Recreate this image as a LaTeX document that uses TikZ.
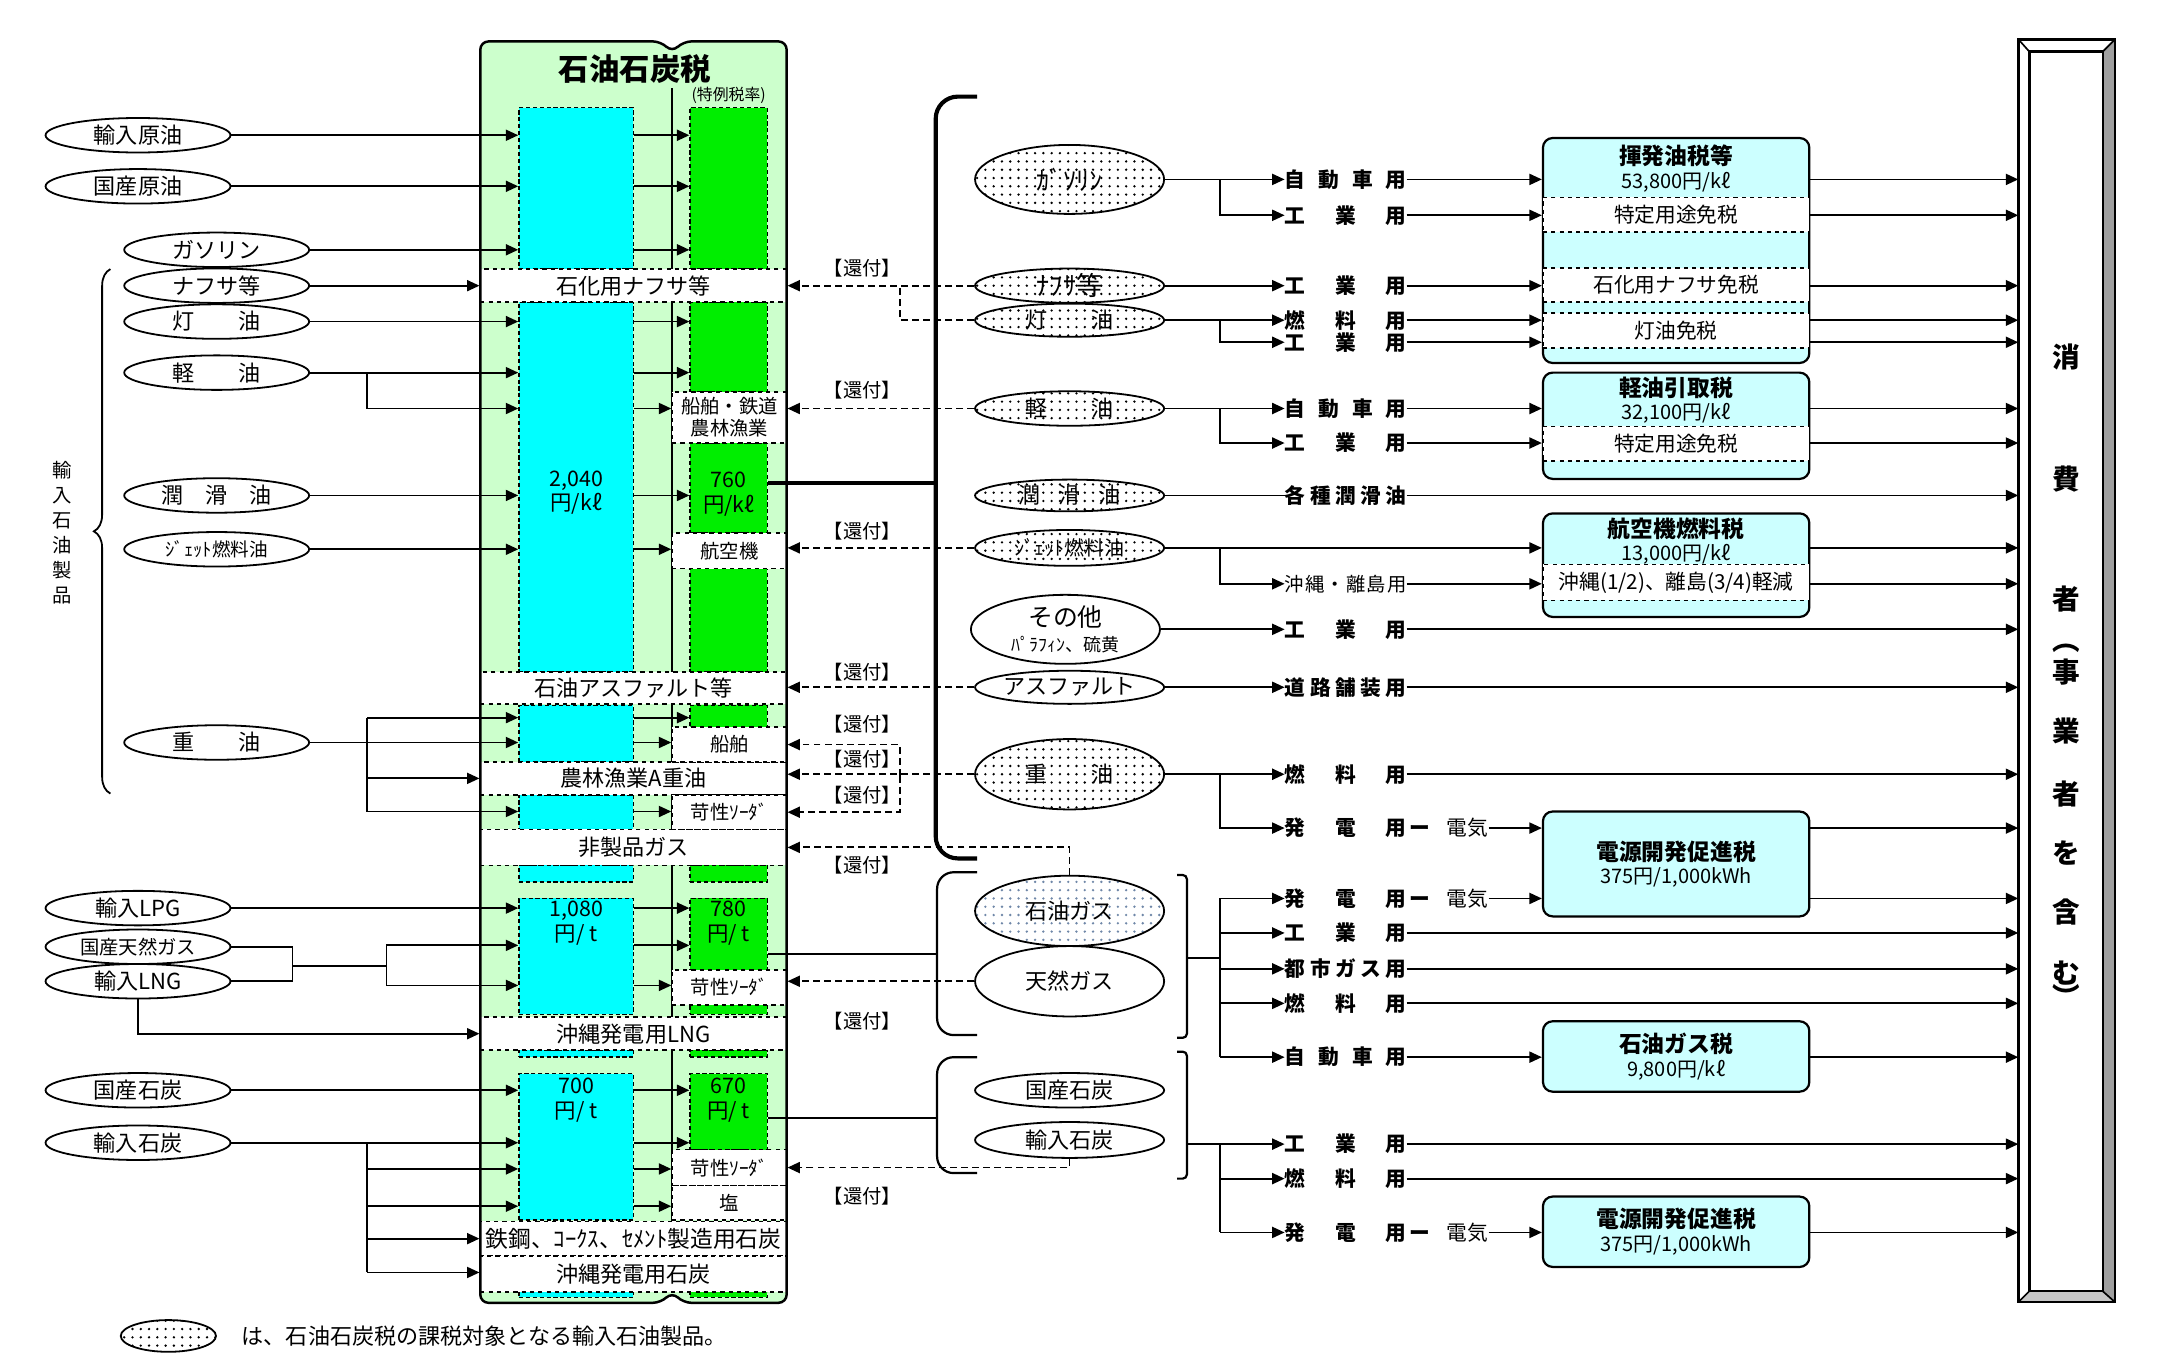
\documentclass[tikz,border=0pt]{standalone}
\usepackage{fontspec}
\setmainfont{Noto Sans CJK JP}
\usetikzlibrary{positioning,shapes.geometric,arrows.meta,patterns.meta,decorations.pathreplacing}
\setlength{\parindent}{0pt}

\definecolor{lightgreen}{HTML}{CCFFCC}
\definecolor{barcyan}{HTML}{00FFFF}
\definecolor{bargreen}{HTML}{00EE00}
\definecolor{taxcyan}{HTML}{CCFFFF}
\definecolor{gasdots}{HTML}{6F87A8}

\newcommand{\fsz}[2]{\fontsize{#1}{#2}\selectfont}

\tikzdeclarepattern{
  name=sparsedots,
  type=uncolored,
  bounding box={(-3pt,-3pt) and (3pt,3pt)},
  tile size={(6pt,6pt)},
  code={\pgfpathcircle{\pgfpointorigin}{0.95pt}\pgfusepath{fill}}
}

\tikzset{
  conn/.style={line width=1.3pt},
  arr/.style={conn,-{Triangle[length=9pt,width=8pt]}},
  ret/.style={conn,dash pattern=on 5pt off 3pt,-{Triangle[length=9pt,width=8pt]}},
  lell/.style={ellipse,draw,line width=1.3pt,minimum width=134pt,minimum height=25pt,inner sep=0pt,font=\fsz{16}{18}},
  rell/.style={lell,minimum width=137pt},
  dotell/.style={rell,pattern=sparsedots,preaction={fill=white}},
  band/.style={draw,dashed,line width=1.2pt,fill=white,minimum width=222pt,inner sep=0pt,font=\fsz{16}{18}},
  sbox/.style={band,minimum width=83pt,align=center,font=\fsz{14}{16}},
  cbar/.style={draw,densely dashed,line width=1pt,fill=barcyan,minimum width=83pt,inner sep=0pt},
  gbar/.style={cbar,fill=bargreen,minimum width=56pt},
  valtxt/.style={align=center,inner sep=0pt,font=\fsz{15.5}{18}},
  kanpu/.style={inner sep=0pt,font=\fsz{14}{16}},
  uselbl/.style={text width=88pt,inner sep=0pt,font=\fsz{15}{17}\bfseries},
  taxbox/.style={draw,line width=1.6pt,rounded corners=7pt,fill=taxcyan,minimum width=193pt,inner sep=0pt},
  tband/.style={draw,dashed,line width=1.2pt,fill=white,minimum width=193pt,minimum height=25pt,inner sep=0pt,font=\fsz{15}{17}},
  taxtxt/.style={align=center,inner sep=0pt,font=\fsz{14.5}{17}},
  constxt/.style={inner sep=0pt,font=\fsz{20}{21}\bfseries}
}

\begin{document}
\begin{tikzpicture}[x=1pt,y=-1pt]
\useasboundingbox (0,0) rectangle (1568,993);

% 石油石炭税 block
\path[fill=lightgreen,rounded corners=6pt] (487,38) -- (479,30) -- (348,30) -- (348,944) -- (479,944) -- (487,936) -- (495,944) -- (570,944) -- (570,30) -- (495,30) -- cycle;
\draw[line width=1.8pt] (487,64) -- (487,936);

\node[cbar,minimum height=117pt] (c1) at (417.5,136.5) {};
\node[cbar,minimum height=268pt] (c2) at (417.5,353) {};
\node[cbar,minimum height=41pt] (c3) at (417.5,531.5) {};
\node[cbar,minimum height=25pt] (c4) at (417.5,588.5) {};
\node[cbar,minimum height=12pt] (c5) at (417.5,633) {};
\node[cbar,minimum height=84pt] (c6) at (417.5,693) {};
\node[cbar,minimum height=5pt] (c7) at (417.5,763.5) {};
\node[cbar,minimum height=106pt] (c8) at (417.5,831) {};
\node[cbar,minimum height=4pt] (c9) at (417.5,938) {};

\node[gbar,minimum height=117pt] (g1) at (528,136.5) {};
\node[gbar,minimum height=65pt] (g2) at (528,251.5) {};
\node[gbar,minimum height=65pt] (g3) at (528,353.5) {};
\node[gbar,minimum height=75pt] (g4) at (528,449.5) {};
\node[gbar,minimum height=16pt] (g5) at (528,519) {};
\node[gbar,minimum height=12pt] (g6) at (528,633) {};
\node[gbar,minimum height=52pt] (g7) at (528,677) {};
\node[gbar,minimum height=7pt] (g8) at (528,731.5) {};
\node[gbar,minimum height=5pt] (g9) at (528,763.5) {};
\node[gbar,minimum height=55pt] (g10) at (528,805.5) {};
\node[gbar,minimum height=4pt] (g11) at (528,938) {};

\node[band,minimum height=24pt] (b1) at (459,207) {石化用ナフサ等};
\node[band,minimum height=23pt] (b2) at (459,498.5) {石油アスファルト等};
\node[band,minimum height=24pt] (b3) at (459,564) {農林漁業A重油};
\node[band,minimum height=26pt] (b4) at (459,614) {非製品ガス};
\node[band,minimum height=24pt] (b5) at (459,749) {沖縄発電用LNG};
\node[band,minimum height=25pt,font=\fsz{16.5}{18}] (b6) at (459,897.5) {鉄鋼、ｺｰｸｽ、ｾﾒﾝﾄ製造用石炭};
\node[band,minimum height=26pt] (b7) at (459,923) {沖縄発電用石炭};

\node[sbox,minimum height=37pt] (s1) at (528.5,302.5) {船舶・鉄道\\農林漁業};
\node[sbox,minimum height=26pt] (s2) at (528.5,399) {航空機};
\node[sbox,minimum height=25pt] (s3) at (528.5,539.5) {船舶};
\node[sbox,minimum height=25pt] (s4) at (528.5,588.5) {苛性ｿｰﾀﾞ};
\node[sbox,minimum height=25pt] (s5) at (528.5,715.5) {苛性ｿｰﾀﾞ};
\node[sbox,minimum height=26pt] (s6) at (528.5,846) {苛性ｿｰﾀﾞ};
\node[sbox,minimum height=25pt] (s7) at (528.5,871.5) {塩};

\draw[line width=1.8pt,rounded corners=6pt] (487,38) -- (479,30) -- (348,30) -- (348,944) -- (479,944) -- (487,936) -- (495,944) -- (570,944) -- (570,30) -- (495,30) -- cycle;

\node[inner sep=0pt,font=\fsz{22}{24}\bfseries] (title) at (460,50) {石油石炭税};
\node[inner sep=0pt,font=\fsz{11.5}{12}] (tokurei) at (528,69) {(特例税率)};
\node[valtxt] (v1) at (417.5,357) {2,040\\円/kℓ};
\node[valtxt] (v2) at (528,358) {760\\円/kℓ};
\node[valtxt] (v3) at (417.5,669) {1,080\\円/ t};
\node[valtxt] (v4) at (528,669) {780\\円/ t};
\node[valtxt] (v5) at (417.5,797) {700\\円/ t};
\node[valtxt] (v6) at (528,797) {670\\円/ t};

% left inputs
\node[lell] (inCrude) at (100,98) {輸入原油};
\node[lell] (domCrude) at (100,135) {国産原油};
\node[lell] (lGas) at (157,181) {ガソリン};
\node[lell] (lNaph) at (157,207) {ナフサ等};
\node[lell] (lKero) at (157,233) {灯\hspace{2em}油};
\node[lell] (lDiesel) at (157,270) {軽\hspace{2em}油};
\node[lell] (lLube) at (157,359) {潤\hspace{1em}滑\hspace{1em}油};
\node[lell,font=\fsz{13.5}{15}] (lJet) at (157,398) {ｼﾞｪｯﾄ燃料油};
\node[lell] (lHeavy) at (157,538) {重\hspace{2em}油};
\node[lell] (lLPG) at (100,658) {輸入LPG};
\node[lell,font=\fsz{14}{15}] (lNG) at (100,686) {国産天然ガス};
\node[lell] (lLNG) at (100,711) {輸入LNG};
\node[lell] (lCoal1) at (100,790) {国産石炭};
\node[lell] (lCoal2) at (100,828) {輸入石炭};

\draw[line width=1.3pt,decorate,decoration={brace,amplitude=12pt}] (80,575) -- (80,195);
\node[align=center,inner sep=0pt,font=\fsz{14}{18}] (yunyu) at (45,386) {輸\\入\\石\\油\\製\\品};

\coordinate (kx) at (266,0);
\coordinate (dsl) at (266,296);
\coordinate (hv1) at (266,520);
\coordinate (hv3) at (266,564);
\coordinate (hv4) at (266,588);
\coordinate (gj) at (212,700);
\coordinate (gk) at (280,700);
\coordinate (ga) at (280,685);
\coordinate (gb) at (280,714);
\coordinate (co1) at (266,847);
\coordinate (co2) at (266,874);
\coordinate (co4) at (266,922);

\draw[arr] (inCrude) -- (inCrude -| c1.west);
\draw[arr] (inCrude -| c1.east) -- (inCrude -| g1.west);
\draw[arr] (domCrude) -- (domCrude -| c1.west);
\draw[arr] (domCrude -| c1.east) -- (domCrude -| g1.west);
\draw[arr] (lGas) -- (lGas -| c1.west);
\draw[arr] (lGas -| c1.east) -- (lGas -| g1.west);
\draw[arr] (lNaph) -- (lNaph -| b1.west);
\draw[arr] (lKero) -- (lKero -| c2.west);
\draw[arr] (lKero -| c2.east) -- (lKero -| g2.west);
\draw[arr] (lDiesel) -- (lDiesel -| c2.west);
\draw[arr] (lDiesel -| c2.east) -- (lDiesel -| g2.west);
\draw[arr] (kx |- lDiesel) -- (dsl) -- (dsl -| c2.west);
\draw[arr] (dsl -| c2.east) -- (dsl -| s1.west);
\draw[arr] (lLube) -- (lLube -| c2.west);
\draw[arr] (lLube -| c2.east) -- (lLube -| g3.west);
\draw[arr] (lJet) -- (lJet -| c2.west);
\draw[arr] (lJet -| c2.east) -- (lJet -| s2.west);

\draw[conn] (hv1) -- (hv4);
\draw[arr] (lHeavy) -- (lHeavy -| c3.west);
\draw[arr] (hv1) -- (hv1 -| c3.west);
\draw[arr] (hv3) -- (hv3 -| b3.west);
\draw[arr] (hv4) -- (hv4 -| c4.west);
\draw[arr] (hv1 -| c3.east) -- (hv1 -| g5.west);
\draw[arr] (lHeavy -| c3.east) -- (lHeavy -| s3.west);
\draw[arr] (hv4 -| c4.east) -- (hv4 -| s4.west);

\draw[arr] (lLPG) -- (lLPG -| c6.west);
\draw[arr] (lLPG -| c6.east) -- (lLPG -| g7.west);
\draw[conn] (lNG.east) -| (gj);
\draw[conn] (lLNG.east) -| (gj);
\draw[conn] (gj) -- (gk);
\draw[conn] (ga) -- (gb);
\draw[arr] (ga) -- (ga -| c6.west);
\draw[arr] (gb) -- (gb -| c6.west);
\draw[arr] (ga -| c6.east) -- (ga -| g7.west);
\draw[arr] (gb -| c6.east) -- (gb -| s5.west);
\draw[arr] (lLNG.south) |- (b5.west);

\draw[arr] (lCoal1) -- (lCoal1 -| c8.west);
\draw[arr] (lCoal1 -| c8.east) -- (lCoal1 -| g10.west);
\draw[arr] (lCoal2) -- (lCoal2 -| c8.west);
\draw[arr] (lCoal2 -| c8.east) -- (lCoal2 -| g10.west);
\draw[conn] (kx |- lCoal2) -- (co4);
\draw[arr] (co1) -- (co1 -| c8.west);
\draw[arr] (co2) -- (co2 -| c8.west);
\draw[arr] (kx |- b6) -- (b6.west);
\draw[arr] (co4) -- (co4 -| b7.west);
\draw[arr] (co1 -| c8.east) -- (co1 -| s6.west);
\draw[arr] (co2 -| c8.east) -- (co2 -| s7.west);

% right products
\node[dotell,minimum height=50pt,font=\fsz{19}{20}] (rGas) at (775,130) {ｶﾞｿﾘﾝ};
\node[dotell,minimum height=24pt,font=\fsz{19}{20}] (rNaph) at (775,207) {ﾅﾌｻ等};
\node[dotell,minimum height=24pt] (rKero) at (775,232) {灯\hspace{2em}油};
\node[dotell,minimum height=25pt] (rDiesel) at (775,296) {軽\hspace{2em}油};
\node[dotell,minimum height=23pt] (rLube) at (775,359) {潤\hspace{0.8em}滑\hspace{0.8em}油};
\node[dotell,minimum height=26pt,font=\fsz{14.5}{16}] (rJet) at (775,397) {ｼﾞｪｯﾄ燃料油};
\node[rell,minimum height=50pt,align=center,font=\fsz{18}{18}] (rOther) at (772,456) {その他\\{\fsz{13}{14}ﾊﾟﾗﾌｨﾝ、硫黄}};
\node[rell,minimum height=24pt] (rAsph) at (775,498) {アスファルト};
\node[dotell,minimum height=51pt] (rHeavy) at (775,561) {重\hspace{2em}油};
\node[dotell,minimum height=51pt,pattern color=gasdots] (rLPGas) at (775,660) {石油ガス};
\node[rell,minimum height=51pt] (rNatGas) at (775,711) {天然ガス};
\node[rell,minimum height=25pt] (rCoal1) at (775,790) {国産石炭};
\node[rell,minimum height=26pt] (rCoal2) at (775,826) {輸入石炭};

% brackets
\coordinate (bigJ) at (678,350);
\coordinate (gL) at (679,691);
\coordinate (gR) at (860,694);
\coordinate (cL) at (679,810);
\coordinate (cR) at (860,829);
\draw[line width=3pt,rounded corners=16pt] (708,70) -- (678,70) -- (678,622) -- (708,622);
\draw[line width=3pt] (bigJ -| g3.east) -- (bigJ);
\draw[line width=1.6pt,rounded corners=12pt] (708,632) -- (679,632) -- (679,750) -- (708,750);
\draw[line width=1.6pt,rounded corners=3pt] (853,634) -- (860,634) -- (860,752) -- (853,752);
\draw[conn] (gL -| g7.east) -- (gL);
\draw[line width=1.6pt,rounded corners=12pt] (708,766) -- (679,766) -- (679,850) -- (708,850);
\draw[line width=1.6pt,rounded corners=3pt] (853,762) -- (860,762) -- (860,854) -- (853,854);
\draw[conn] (cL -| g10.east) -- (cL);

% refunds
\coordinate (kj) at (652,207);
\coordinate (hj) at (652,562);
\draw[ret] (rNaph) -- (rNaph -| b1.east);
\draw[conn,dash pattern=on 5pt off 3pt] (rKero.west) -| (kj);
\draw[ret] (rDiesel) -- (rDiesel -| s1.east);
\draw[ret] (rJet) -- (rJet -| s2.east);
\draw[ret] (rAsph) -- (rAsph -| b2.east);
\draw[ret] (rHeavy) -- (rHeavy -| b3.east);
\draw[ret] (hj) |- (s3.east);
\draw[ret] (hj) |- (s4.east);
\draw[ret] (rLPGas.north) |- (b4.east);
\draw[ret] (rNatGas) -- (rNatGas -| s5.east);
\draw[ret] (rCoal2.south) |- (s6.east);
\foreach \yy in {194,283,385,487,525,550,576,627,740,867}
  \node[kanpu] (k\yy) at (625,\yy) {【還付】};

% uses
\node[uselbl] (uGas1) at (975,130) {自\hfill 動\hfill 車\hfill 用};
\node[uselbl] (uGas2) at (975,156) {工\hfill 業\hfill 用};
\node[uselbl] (uNaph) at (975,207) {工\hfill 業\hfill 用};
\node[uselbl] (uKer1) at (975,232) {燃\hfill 料\hfill 用};
\node[uselbl] (uKer2) at (975,248) {工\hfill 業\hfill 用};
\node[uselbl] (uDie1) at (975,296) {自\hfill 動\hfill 車\hfill 用};
\node[uselbl] (uDie2) at (975,321) {工\hfill 業\hfill 用};
\node[uselbl] (uLube) at (975,359) {各\hfill 種\hfill 潤\hfill 滑\hfill 油};
\node[uselbl,font=\fsz{14}{16}] (uJet) at (975,423) {沖\hfill 縄\hfill ・\hfill 離\hfill 島\hfill 用};
\node[uselbl] (uOth) at (975,456) {工\hfill 業\hfill 用};
\node[uselbl] (uAsp) at (975,498) {道\hfill 路\hfill 舗\hfill 装\hfill 用};
\node[uselbl] (uHv1) at (975,561) {燃\hfill 料\hfill 用};
\node[uselbl] (uHv2) at (975,600) {発\hfill 電\hfill 用};
\node[uselbl] (uGs1) at (975,651) {発\hfill 電\hfill 用};
\node[uselbl] (uGs2) at (975,676) {工\hfill 業\hfill 用};
\node[uselbl] (uGs3) at (975,702) {都\hfill 市\hfill ガ\hfill ス\hfill 用};
\node[uselbl] (uGs4) at (975,727) {燃\hfill 料\hfill 用};
\node[uselbl] (uGs5) at (975,766) {自\hfill 動\hfill 車\hfill 用};
\node[uselbl] (uCo1) at (975,829) {工\hfill 業\hfill 用};
\node[uselbl] (uCo2) at (975,854) {燃\hfill 料\hfill 用};
\node[uselbl] (uCo3) at (975,893) {発\hfill 電\hfill 用};
\node[right=2pt of uHv2,inner sep=0pt,font=\fsz{15}{17}] (eHv) {{\bfseries ー}\hspace{12pt}電気};
\node[right=2pt of uGs1,inner sep=0pt,font=\fsz{15}{17}] (eGs) {{\bfseries ー}\hspace{12pt}電気};
\node[right=2pt of uCo3,inner sep=0pt,font=\fsz{15}{17}] (eCo) {{\bfseries ー}\hspace{12pt}電気};

\coordinate (bx) at (884,0);
\draw[arr] (rGas) -- (uGas1.west);
\draw[arr] (bx |- rGas) |- (uGas2.west);
\draw[arr] (rNaph) -- (uNaph.west);
\draw[arr] (rKero) -- (uKer1.west);
\draw[arr] (bx |- rKero) |- (uKer2.west);
\draw[arr] (rDiesel) -- (uDie1.west);
\draw[arr] (bx |- rDiesel) |- (uDie2.west);
\draw[conn] (rLube) -- (uLube.west);
\draw[arr] (bx |- rJet) |- (uJet.west);
\draw[arr] (rOther) -- (uOth.west);
\draw[arr] (rAsph) -- (uAsp.west);
\draw[arr] (rHeavy) -- (uHv1.west);
\draw[arr] (bx |- rHeavy) |- (uHv2.west);
\draw[conn] (gR) -- (bx |- gR);
\draw[conn] (bx |- uGs1) -- (bx |- uGs5);
\foreach \u in {uGs1,uGs2,uGs3,uGs4,uGs5}
  \draw[arr] (bx |- \u) -- (\u.west);
\draw[arr] (cR) -- (uCo1.west);
\draw[conn] (bx |- uCo1) -- (bx |- uCo3);
\draw[arr] (bx |- uCo2) -- (uCo2.west);
\draw[arr] (bx |- uCo3) -- (uCo3.west);

% taxes
\node[taxbox,minimum height=163pt] (t1) at (1214.5,181.5) {};
\node[tband] (t1a) at (1214.5,155.5) {特定用途免税};
\node[tband] (t1b) at (1214.5,206.5) {石化用ナフサ免税};
\node[tband] (t1c) at (1214.5,239.5) {灯油免税};
\node[taxtxt] (t1txt) at (1214.5,122) {{\fsz{16.5}{18}\bfseries 揮発油税等}\\53,800円/kℓ};
\node[taxbox,minimum height=77pt] (t2) at (1214.5,308.5) {};
\node[tband] (t2a) at (1214.5,321.5) {特定用途免税};
\node[taxtxt] (t2txt) at (1214.5,290) {{\fsz{16.5}{18}\bfseries 軽油引取税}\\32,100円/kℓ};
\node[taxbox,minimum height=75pt] (t3) at (1214.5,409.5) {};
\node[tband,minimum height=26pt] (t3a) at (1214.5,422) {沖縄(1/2)、離島(3/4)軽減};
\node[taxtxt] (t3txt) at (1214.5,392) {{\fsz{16.5}{18}\bfseries 航空機燃料税}\\13,000円/kℓ};
\node[taxbox,minimum height=76pt,align=center,font=\fsz{14.5}{17}] (t4) at (1214.5,626) {{\fsz{16.5}{18}\bfseries 電源開発促進税}\\375円/1,000kWh};
\node[taxbox,minimum height=51pt,align=center,font=\fsz{14.5}{17}] (t5) at (1214.5,765.5) {{\fsz{16.5}{18}\bfseries 石油ガス税}\\9,800円/kℓ};
\node[taxbox,minimum height=51pt,align=center,font=\fsz{14.5}{17}] (t6) at (1214.5,892.5) {{\fsz{16.5}{18}\bfseries 電源開発促進税}\\375円/1,000kWh};

% consumers
\node[draw,fill=white,line width=1.2pt,minimum width=69pt,minimum height=914pt,inner sep=0pt] (cons) at (1497.5,486) {};
\fill[gray!75] (cons.north east) -- ([shift={(-9,9)}]cons.north east) -- ([shift={(-9,-8)}]cons.south east) -- (cons.south east) -- cycle;
\fill[gray!45] (cons.south west) -- ([shift={(8,-8)}]cons.south west) -- ([shift={(-9,-8)}]cons.south east) -- (cons.south east) -- cycle;
\draw[line width=1.2pt] (cons.north west) rectangle (cons.south east);
\draw[line width=1.8pt] ([shift={(8,9)}]cons.north west) rectangle ([shift={(-9,-8)}]cons.south east);
\draw[line width=1.2pt] (cons.north west) -- +(8,9);
\draw[line width=1.2pt] (cons.north east) -- +(-9,9);
\draw[line width=1.2pt] (cons.south west) -- +(8,-8);
\draw[line width=1.2pt] (cons.south east) -- +(-9,-8);
\foreach \ch/\yy in {消/259,費/347,者/434,事/487,業/530,者/575,を/618,含/661,む/705}
  \node[constxt] (cs\yy) at (1497,\yy) {\ch};
\node[constxt] (parL) at (1497,470) {︵};
\node[constxt] (parR) at (1497,722) {︶};

% into taxes and consumers
\foreach \u in {uGas1,uGas2,uNaph,uKer1,uKer2}
  \draw[arr] (\u.east) -- (\u -| t1.west);
\foreach \u in {uDie1,uDie2}
  \draw[arr] (\u.east) -- (\u -| t2.west);
\draw[arr] (rJet) -- (rJet -| t3.west);
\draw[arr] (uJet.east) -- (uJet -| t3.west);
\draw[arr] (eHv.east) -- (eHv -| t4.west);
\draw[arr] (eGs.east) -- (eGs -| t4.west);
\draw[arr] (uGs5.east) -- (uGs5 -| t5.west);
\draw[arr] (eCo.east) -- (eCo -| t6.west);
\foreach \u in {uLube,uOth,uAsp,uHv1,uGs2,uGs3,uGs4,uCo1,uCo2}
  \draw[arr] (\u.east) -- (\u -| cons.west);
\foreach \u/\tx in {uGas1/t1,uGas2/t1,uNaph/t1,uKer1/t1,uKer2/t1,uDie1/t2,uDie2/t2,rJet/t3,uJet/t3,eHv/t4,eGs/t4,uGs5/t5,eCo/t6}
  \draw[arr] (\u -| \tx.east) -- (\u -| cons.west);

% legend
\node[dotell,minimum width=69pt,minimum height=23pt] (legEll) at (122,968) {};
\node[anchor=west,inner sep=0pt,font=\fsz{16}{18}] (legTxt) at (175,968) {は、石油石炭税の課税対象となる輸入石油製品。};
\end{tikzpicture}
\end{document}
